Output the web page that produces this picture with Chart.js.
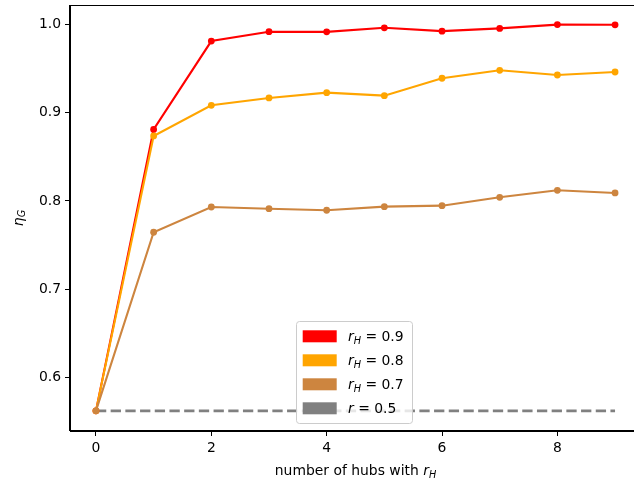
<!DOCTYPE html>
<html>
<head>
<meta charset="utf-8">
<script src="https://cdn.jsdelivr.net/npm/chart.js@4/dist/chart.umd.min.js"></script>
<style>
  html, body { margin: 0; padding: 0; background: #fff; overflow: hidden; }
  #wrap { position: relative; width: 642px; height: 484px; }
</style>
</head>
<body>
<div id="wrap"><canvas id="c"></canvas></div>
<script>
// Efficiency eta_G against the number of hubs given ratio r_H
const hubs = [0, 1, 2, 3, 4, 5, 6, 7, 8, 9];
const etaRH09 = [0.5625, 0.8810, 0.9810, 0.9916, 0.9914, 0.9960, 0.9922, 0.9953, 0.9996, 0.9994];
const etaRH08 = [0.5625, 0.8736, 0.9083, 0.9166, 0.9226, 0.9192, 0.9389, 0.9479, 0.9426, 0.9460];
const etaRH07 = [0.5625, 0.7646, 0.7932, 0.7913, 0.7895, 0.7936, 0.7947, 0.8042, 0.8121, 0.8091];
const etaBase = [0.5625, 0.5625, 0.5625, 0.5625, 0.5625, 0.5625, 0.5625, 0.5625, 0.5625, 0.5625];

const legendValues = ['0.9', '0.8', '0.7', '0.5'];
const xTicks = [0, 2, 4, 6, 8];
const yTicks = [0.6, 0.7, 0.8, 0.9, 1.0];

const FONT = '"DejaVu Sans", sans-serif';
const FS = 13.9;

const pts = (ys) => hubs.map((h, i) => ({ x: h, y: ys[i] }));

// Draw a run of text pieces, some italic, some subscripted
function mathWidth(ctx, parts, fs) {
  let w = 0;
  for (const p of parts) {
    const size = p.sub ? fs * 0.7 : fs;
    ctx.font = (p.it ? 'italic ' : '') + size + 'px ' + FONT;
    w += ctx.measureText(p.t).width;
  }
  return w;
}
function drawMath(ctx, parts, x, y, fs) {
  ctx.textBaseline = 'alphabetic';
  ctx.textAlign = 'left';
  for (const p of parts) {
    const size = p.sub ? fs * 0.7 : fs;
    ctx.font = (p.it ? 'italic ' : '') + size + 'px ' + FONT;
    ctx.fillText(p.t, x, y + (p.sub ? fs * 0.21 : 0));
    x += ctx.measureText(p.t).width;
  }
}

const decorations = {
  id: 'decorations',
  afterDatasetsDraw(chart) {
    const ctx = chart.ctx;
    const a = chart.chartArea;
    ctx.save();
    // axes frame
    ctx.strokeStyle = '#000';
    ctx.lineWidth = 1;
    ctx.strokeRect(Math.round(a.left) - 0.5, Math.round(a.top) + 0.5,
                   Math.round(a.right - a.left) + 1, Math.round(a.bottom - a.top) - 1);

    // x axis title
    ctx.fillStyle = '#000';
    const xParts = [{ t: 'number of hubs with ' }, { t: 'r', it: true }, { t: 'H', it: true, sub: true }];
    const xw = mathWidth(ctx, xParts, FS);
    drawMath(ctx, xParts, (a.left + a.right) / 2 - xw / 2, 475, FS);

    // y axis title (rotated)
    const yParts = [{ t: 'η', it: true }, { t: 'G', it: true, sub: true }];
    const yw = mathWidth(ctx, yParts, FS);
    ctx.save();
    ctx.translate(22.5, (a.top + a.bottom) / 2);
    ctx.rotate(-Math.PI / 2);
    drawMath(ctx, yParts, -yw / 2, 0, FS);
    ctx.restore();

    // legend
    const bx = 296.5, by = 321.5, bw = 116, bh = 102;
    ctx.beginPath();
    ctx.roundRect(bx, by, bw, bh, 3);
    ctx.fillStyle = 'rgba(255,255,255,0.8)';
    ctx.fill();
    ctx.strokeStyle = '#cccccc';
    ctx.lineWidth = 1;
    ctx.stroke();
    const legendSets = [0, 1, 2, 3];
    legendSets.forEach((di, i) => {
      const ds = chart.data.datasets[di];
      const cy = 336.3 + 24 * i;
      ctx.fillStyle = ds.borderColor;
      ctx.fillRect(302.7, cy - 6, 34, 12);
      ctx.fillStyle = '#000';
      const parts = i < 3
        ? [{ t: 'r', it: true }, { t: 'H', it: true, sub: true }, { t: ' = ' + legendValues[i] }]
        : [{ t: 'r', it: true }, { t: ' = ' + legendValues[i] }];
      drawMath(ctx, parts, 348, cy + 5, FS);
    });
    ctx.restore();
  }
};

const lineSet = (label, ys, color, order) => ({
  label, data: pts(ys),
  borderColor: color, backgroundColor: color,
  borderWidth: 2.1,
  pointRadius: 3.4, pointBorderWidth: 0, pointBackgroundColor: color,
  tension: 0, order
});

// keep the plot area fixed: no extra room reserved for edge tick labels
const noEdgePadding = (s) => {
  s.paddingTop = 0; s.paddingBottom = 0; s.paddingLeft = 0; s.paddingRight = 0;
};

new Chart(document.getElementById('c'), {
  type: 'line',
  data: {
    datasets: [
      lineSet('r_H = 0.9', etaRH09, '#ff0000', 4),
      lineSet('r_H = 0.8', etaRH08, '#ffa500', 3),
      lineSet('r_H = 0.7', etaRH07, '#cd853f', 2),
      {
        label: 'r = 0.5', data: pts(etaBase),
        borderColor: '#808080', backgroundColor: '#808080',
        borderWidth: 2.8, borderDash: [10.3, 4.4],
        pointRadius: 0, tension: 0, order: 5
      }
    ]
  },
  options: {
    responsive: true,
    maintainAspectRatio: false,
    devicePixelRatio: 1,
    animation: false,
    events: [],
    layout: { autoPadding: false, padding: { top: 5, right: 1, left: 0, bottom: 0 } },
    plugins: { legend: { display: false }, tooltip: { enabled: false } },
    scales: {
      x: {
        type: 'linear',
        min: -0.45, max: 9.45,
        afterFit(s) { s.height = 53; noEdgePadding(s); },
        afterBuildTicks(s) { s.ticks = xTicks.map(v => ({ value: v })); },
        grid: { drawOnChartArea: false, drawTicks: true, tickLength: 5, color: '#000', tickWidth: 1 },
        border: { display: true, color: '#000', width: 1 },
        ticks: {
          color: '#000', padding: 4, maxRotation: 0, autoSkip: false,
          font: { family: FONT, size: FS },
          callback: v => String(v)
        }
      },
      y: {
        min: 0.5397, max: 1.0218,
        afterFit(s) { s.width = 70; noEdgePadding(s); },
        afterBuildTicks(s) { s.ticks = yTicks.map(v => ({ value: v })); },
        grid: { drawOnChartArea: false, drawTicks: true, tickLength: 5, color: '#000', tickWidth: 1 },
        border: { display: true, color: '#000', width: 1 },
        ticks: {
          color: '#000', padding: 4, autoSkip: false,
          font: { family: FONT, size: FS },
          callback: v => v.toFixed(1)
        }
      }
    }
  },
  plugins: [decorations]
});
</script>
</body>
</html>
